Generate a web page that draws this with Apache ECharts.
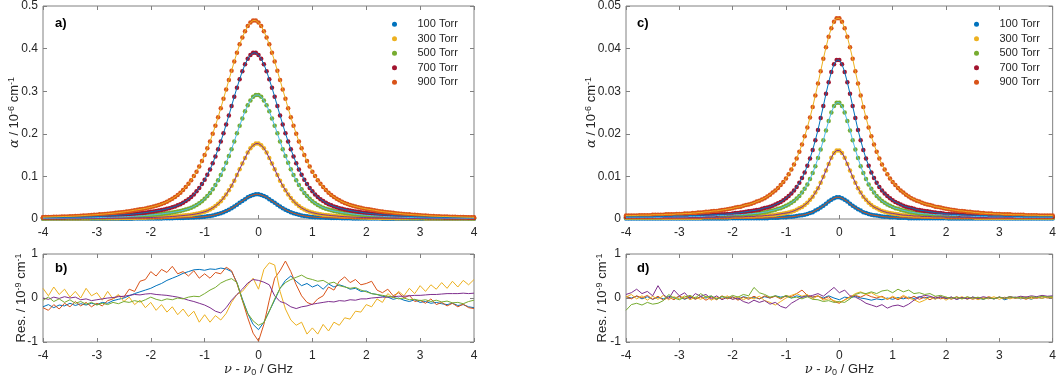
<!DOCTYPE html>
<html>
<head>
<meta charset="utf-8">
<script src="https://cdn.jsdelivr.net/npm/echarts/dist/echarts.min.js"></script>
<style>
  html, body { margin: 0; padding: 0; background: #fff; }
  #chart { width: 1059px; height: 380px; }
</style>
</head>
<body>
<div id="chart"></div>
<script>
// frequency grids (GHz)
const nu = [];
for (let i = 0; i <= 160; i++) nu.push(+(-4 + i * 0.05).toFixed(2));
const nuRes = [];
for (let i = 0; i <= 80; i++) nuRes.push(+(-4 + i * 0.1).toFixed(1));

const pressures = ['100 Torr', '300 Torr', '500 Torr', '700 Torr', '900 Torr'];
const dotColors = ['#0072BD', '#EDB120', '#77AC30', '#A2142F', '#D95319'];
const fitColors = ['#D95319', '#7E2F8E', '#4DBEEE', '#0072BD', '#EDB120'];
const resColors = ['#0072BD', '#D95319', '#EDB120', '#7E2F8E', '#77AC30'];

// panel a: absorption, 10^-6 cm^-1
const alphaA100 = [
  .0004,.0004,.0004,.0004,.0004,.0005,.0005,.0005,.0005,.0005,
  .0005,.0005,.0005,.0005,.0005,.0006,.0006,.0006,.0006,.0006,
  .0006,.0006,.0006,.0006,.0006,.0007,.0007,.0007,.0007,.0007,
  .0008,.0008,.0008,.0008,.0009,.0009,.0009,.001,.001,.001,
  .0011,.0012,.0013,.0014,.0014,.0015,.0017,.0018,.0019,.0021,
  .0023,.0024,.0026,.0028,.003,.0033,.0036,.0039,.0044,.0049,
  .0055,.0063,.0073,.0084,.0099,.0116,.0136,.0161,.0188,.022,
  .0254,.0293,.0336,.0381,.0424,.0466,.0509,.0541,.0564,.058,
  .058,.0564,.0541,.0509,.0466,.0424,.0381,.0336,.0293,.0254,
  .022,.0188,.0161,.0136,.0116,.0099,.0084,.0073,.0063,.0055,
  .0049,.0044,.0039,.0036,.0033,.003,.0028,.0026,.0024,.0023,
  .0021,.0019,.0018,.0017,.0015,.0014,.0014,.0013,.0012,.0011,
  .001,.001,.001,.0009,.0009,.0009,.0008,.0008,.0008,.0008,
  .0007,.0007,.0007,.0007,.0007,.0006,.0006,.0006,.0006,.0006,
  .0006,.0006,.0006,.0006,.0006,.0005,.0005,.0005,.0005,.0005,
  .0005,.0005,.0005,.0005,.0005,.0004,.0004,.0004,.0004,.0004,
  .0004
];
const alphaA300 = [
  .001,.001,.001,.001,.0011,.0011,.0011,.0011,.0012,.0012,
  .0012,.0012,.0013,.0013,.0013,.0014,.0014,.0014,.0015,.0015,
  .0016,.0016,.0017,.0017,.0018,.0018,.0019,.002,.002,.0021,
  .0022,.0023,.0024,.0025,.0026,.0027,.0029,.003,.0031,.0033,
  .0035,.0037,.0039,.0042,.0044,.0047,.0051,.0054,.0059,.0063,
  .007,.0075,.008,.0087,.0093,.0101,.011,.0121,.0135,.015,
  .017,.0192,.0224,.0259,.0303,.0356,.0418,.0493,.0578,.0675,
  .078,.090,.103,.117,.130,.143,.156,.166,.173,.177,
  .177,.173,.166,.156,.143,.130,.117,.103,.090,.078,
  .0675,.0578,.0493,.0418,.0356,.0303,.0259,.0224,.0192,.017,
  .015,.0135,.0121,.011,.0101,.0093,.0087,.008,.0075,.007,
  .0063,.0059,.0054,.0051,.0047,.0044,.0042,.0039,.0037,.0035,
  .0033,.0031,.003,.0029,.0027,.0026,.0025,.0024,.0023,.0022,
  .0021,.002,.002,.0019,.0018,.0018,.0017,.0017,.0016,.0016,
  .0015,.0015,.0014,.0014,.0014,.0013,.0013,.0013,.0012,.0012,
  .0012,.0012,.0011,.0011,.0011,.0011,.001,.001,.001,.001,
  .001
];
const alphaA500 = [
  .002,.002,.0021,.0021,.0022,.0022,.0023,.0023,.0024,.0024,
  .0025,.0025,.0026,.0026,.0027,.0028,.0029,.003,.0031,.0032,
  .0033,.0034,.0036,.0037,.0039,.0041,.0043,.0045,.0047,.0049,
  .0052,.0055,.0057,.0062,.0065,.0069,.0073,.0077,.0084,.0087,
  .0092,.0099,.0104,.0111,.0118,.0127,.0135,.0143,.0152,.0163,
  .0175,.0187,.0203,.0221,.0241,.0266,.0295,.033,.0371,.0418,
  .0473,.054,.0613,.070,.080,.091,.103,.117,.132,.148,
  .164,.182,.201,.219,.236,.253,.267,.278,.287,.291,
  .291,.287,.278,.267,.253,.236,.219,.201,.182,.164,
  .148,.132,.117,.103,.091,.080,.070,.0613,.054,.0473,
  .0418,.0371,.033,.0295,.0266,.0241,.0221,.0203,.0187,.0175,
  .0163,.0152,.0143,.0135,.0127,.0118,.0111,.0104,.0099,.0092,
  .0087,.0084,.0077,.0073,.0069,.0065,.0062,.0057,.0055,.0052,
  .0049,.0047,.0045,.0043,.0041,.0039,.0037,.0036,.0034,.0033,
  .0032,.0031,.003,.0029,.0028,.0027,.0026,.0026,.0025,.0025,
  .0024,.0024,.0023,.0023,.0022,.0022,.0021,.0021,.002,.002,
  .002
];
const alphaA700 = [
  .0033,.0033,.0034,.0034,.0035,.0035,.0036,.0037,.0038,.0039,
  .004,.0041,.0042,.0043,.0044,.0045,.0047,.0049,.0051,.0053,
  .0056,.0059,.0062,.0066,.007,.0074,.0077,.0081,.0087,.0091,
  .0096,.0101,.0106,.0114,.012,.0127,.0133,.014,.0149,.0158,
  .017,.0178,.0188,.0199,.021,.0223,.0239,.0255,.0274,.0296,
  .032,.0349,.0383,.0422,.0466,.0516,.0577,.065,.073,.082,
  .092,.104,.116,.131,.147,.164,.182,.201,.222,.243,
  .265,.287,.308,.328,.347,.363,.376,.385,.390,
  .390,.385,.376,.363,.347,.328,.308,.287,.265,.243,
  .222,.201,.182,.164,.147,.131,.116,.104,.092,.082,
  .073,.065,.0577,.0516,.0466,.0422,.0383,.0349,.032,.0296,
  .0274,.0255,.0239,.0223,.021,.0199,.0188,.0178,.017,.0158,
  .0149,.014,.0133,.0127,.012,.0114,.0106,.0101,.0096,.0091,
  .0087,.0081,.0077,.0074,.007,.0066,.0062,.0059,.0056,.0053,
  .0051,.0049,.0047,.0045,.0044,.0043,.0042,.0041,.004,.0039,
  .0038,.0037,.0036,.0035,.0035,.0034,.0034,.0033,.0033,.0032,
  .0032,.0031
];
const alphaA900 = [
  .0043,.0045,.0047,.0049,.0051,.0052,.0054,.0057,.0059,.006,
  .0063,.0067,.007,.0073,.0077,.0082,.0085,.009,.0094,.0098,
  .0102,.0109,.0113,.0118,.0125,.0131,.0137,.0144,.0152,.0159,
  .0167,.0175,.0184,.0194,.0207,.0216,.0226,.0237,.0248,.0262,
  .0277,.0293,.031,.0331,.0352,.0377,.0405,.0438,.0475,.0517,
  .0564,.0615,.068,.075,.083,.091,.101,.111,.123,.136,
  .150,.166,.182,.200,.219,.239,.260,.282,.304,.326,
  .348,.370,.390,.410,.426,.441,.453,.461,.466,
  .466,.461,.453,.441,.426,.410,.390,.370,.348,.326,
  .304,.282,.260,.239,.219,.200,.182,.166,.150,.136,
  .123,.111,.101,.091,.083,.075,.068,.0615,.0564,.0517,
  .0475,.0438,.0405,.0377,.0352,.0331,.031,.0293,.0277,.0262,
  .0248,.0237,.0226,.0216,.0207,.0194,.0184,.0175,.0167,.0159,
  .0152,.0144,.0137,.0131,.0125,.0118,.0113,.0109,.0102,.0098,
  .0094,.009,.0085,.0082,.0077,.0073,.007,.0067,.0063,.006,
  .0059,.0057,.0054,.0052,.0051,.0049,.0047,.0045,.0043,.0041,
  .004,.0039
];

// panel c: absorption, 10^-6 cm^-1
const alphaC100 = [
  .0001,.0001,.0001,.0001,.0001,.0001,.0001,.0001,.0001,.0001,
  .0001,.0001,.0001,.0001,.0001,.0001,.0001,.0001,.0001,.0001,
  .0001,.0001,.0001,.0001,.0001,.0001,.0001,.0001,.0001,.0001,
  .0001,.0001,.0001,.0001,.0001,.0001,.0001,.0001,.0001,.0002,
  .0002,.0002,.0002,.0002,.0002,.0002,.0002,.0002,.0002,.0002,
  .0002,.0002,.0002,.0002,.0003,.0003,.0003,.0003,.0004,.0004,
  .0004,.0005,.0005,.0006,.0007,.0008,.0009,.001,.0012,.0014,
  .0016,.002,.0023,.0027,.0031,.0036,.0041,.0045,.0049,.0051,
  .0051,.0049,.0045,.0041,.0036,.0031,.0027,.0023,.002,.0016,
  .0014,.0012,.001,.0009,.0008,.0007,.0006,.0005,.0005,.0004,
  .0004,.0004,.0003,.0003,.0003,.0003,.0002,.0002,.0002,.0002,
  .0002,.0002,.0002,.0002,.0002,.0002,.0002,.0002,.0002,.0002,
  .0002,.0001,.0001,.0001,.0001,.0001,.0001,.0001,.0001,.0001,
  .0001,.0001,.0001,.0001,.0001,.0001,.0001,.0001,.0001,.0001,
  .0001,.0001,.0001,.0001,.0001,.0001,.0001,.0001,.0001,.0001,
  .0001,.0001,.0001,.0001,.0001,.0001,.0001,.0001,.0001,.0001,
  .0001
];
const alphaC300 = [
  .0003,.0003,.0003,.0003,.0003,.0003,.0003,.0003,.0003,.0003,
  .0003,.0003,.0003,.0003,.0003,.0003,.0003,.0003,.0003,.0003,
  .0003,.0003,.0003,.0003,.0003,.0003,.0003,.0003,.0003,.0004,
  .0004,.0004,.0004,.0004,.0004,.0004,.0004,.0004,.0004,.0004,
  .0005,.0005,.0005,.0005,.0005,.0006,.0006,.0006,.0006,.0007,
  .0007,.0007,.0008,.0008,.0009,.0009,.001,.0011,.0012,.0013,
  .0014,.0015,.0017,.0019,.0022,.0025,.0028,.0033,.0038,.0045,
  .0052,.0062,.0072,.0085,.0099,.0114,.0129,.0144,.0155,.0161,
  .0161,.0155,.0144,.0129,.0114,.0099,.0085,.0072,.0062,.0052,
  .0045,.0038,.0033,.0028,.0025,.0022,.0019,.0017,.0015,.0014,
  .0013,.0012,.0011,.001,.0009,.0009,.0008,.0008,.0007,.0007,
  .0007,.0006,.0006,.0006,.0006,.0005,.0005,.0005,.0005,.0005,
  .0004,.0004,.0004,.0004,.0004,.0004,.0004,.0004,.0004,.0004,
  .0004,.0003,.0003,.0003,.0003,.0003,.0003,.0003,.0003,.0003,
  .0003,.0003,.0003,.0003,.0003,.0003,.0003,.0003,.0003,.0003,
  .0003,.0003,.0003,.0003,.0003,.0003,.0003,.0003,.0003,.0003,
  .0003
];
const alphaC500 = [
  .0004,.0004,.0004,.0004,.0004,.0004,.0004,.0004,.0004,.0004,
  .0004,.0004,.0004,.0004,.0005,.0005,.0005,.0005,.0005,.0005,
  .0005,.0005,.0005,.0005,.0006,.0006,.0006,.0006,.0006,.0006,
  .0007,.0007,.0007,.0007,.0008,.0008,.0008,.0008,.0009,.0009,
  .0009,.001,.001,.001,.0011,.0011,.0012,.0012,.0013,.0013,
  .0014,.0015,.0016,.0017,.0019,.002,.0022,.0024,.0025,.0028,
  .0031,.0034,.0038,.0042,.0048,.0054,.0062,.0071,.0081,.0094,
  .0108,.0124,.0143,.0163,.0185,.0208,.023,.025,.0265,.0273,
  .0273,.0265,.025,.023,.0208,.0185,.0163,.0143,.0124,.0108,
  .0094,.0081,.0071,.0062,.0054,.0048,.0042,.0038,.0034,.0031,
  .0028,.0025,.0024,.0022,.002,.0019,.0017,.0016,.0015,.0014,
  .0013,.0013,.0012,.0012,.0011,.0011,.001,.001,.001,.0009,
  .0009,.0009,.0008,.0008,.0008,.0008,.0007,.0007,.0007,.0007,
  .0006,.0006,.0006,.0006,.0006,.0006,.0005,.0005,.0005,.0005,
  .0005,.0005,.0005,.0005,.0005,.0005,.0004,.0004,.0004,.0004,
  .0004,.0004,.0004,.0004,.0004,.0004,.0004,.0004,.0004,.0004,
  .0004
];
const alphaC700 = [
  .0005,.0005,.0005,.0005,.0005,.0005,.0005,.0005,.0005,.0005,
  .0005,.0006,.0006,.0006,.0006,.0006,.0006,.0006,.0007,.0007,
  .0007,.0007,.0007,.0007,.0008,.0008,.0008,.0008,.0009,.0009,
  .0009,.0009,.001,.001,.001,.0011,.0011,.0011,.0012,.0012,
  .0013,.0014,.0014,.0015,.0016,.0017,.0018,.0019,.002,.0021,
  .0022,.0024,.0026,.0027,.0029,.0031,.0034,.0037,.004,.0044,
  .0049,.0054,.006,.0067,.0075,.0085,.0096,.0109,.0125,.0142,
  .0162,.0185,.0209,.0237,.0265,.0294,.0321,.0345,.0363,.0373,
  .0373,.0363,.0345,.0321,.0294,.0265,.0237,.0209,.0185,.0162,
  .0142,.0125,.0109,.0096,.0085,.0075,.0067,.006,.0054,.0049,
  .0044,.004,.0037,.0034,.0031,.0029,.0027,.0026,.0024,.0022,
  .0021,.002,.0019,.0018,.0017,.0016,.0015,.0014,.0014,.0013,
  .0012,.0012,.0011,.0011,.0011,.001,.001,.001,.0009,.0009,
  .0009,.0009,.0008,.0008,.0008,.0008,.0007,.0007,.0007,.0007,
  .0007,.0007,.0006,.0006,.0006,.0006,.0006,.0006,.0006,.0005,
  .0005,.0005,.0005,.0005,.0005,.0005,.0005,.0005,.0005,.0005,
  .0005
];
const alphaC900 = [
  .0008,.0008,.0008,.0008,.0008,.0009,.0009,.0009,.0009,.0009,
  .001,.001,.001,.001,.001,.0011,.0011,.0011,.0011,.0012,
  .0012,.0012,.0013,.0013,.0013,.0014,.0014,.0015,.0015,.0016,
  .0017,.0017,.0018,.0019,.0019,.002,.0021,.0022,.0023,.0024,
  .0025,.0027,.0028,.0029,.0031,.0033,.0034,.0036,.0038,.0041,
  .0043,.0046,.0049,.0053,.0057,.0062,.0067,.0073,.008,.0087,
  .0095,.0105,.0116,.0128,.0142,.0158,.0175,.0194,.0215,.0238,
  .0263,.029,.0318,.0347,.0376,.0403,.0428,.0448,.0463,.0471,
  .0471,.0463,.0448,.0428,.0403,.0376,.0347,.0318,.029,.0263,
  .0238,.0215,.0194,.0175,.0158,.0142,.0128,.0116,.0105,.0095,
  .0087,.008,.0073,.0067,.0062,.0057,.0053,.0049,.0046,.0043,
  .0041,.0038,.0036,.0034,.0033,.0031,.0029,.0028,.0027,.0025,
  .0024,.0023,.0022,.0021,.002,.0019,.0019,.0018,.0017,.0017,
  .0016,.0015,.0015,.0014,.0014,.0013,.0013,.0013,.0012,.0012,
  .0012,.0011,.0011,.0011,.0011,.001,.001,.001,.001,.001,
  .0009,.0009,.0009,.0009,.0009,.0008,.0008,.0008,.0008,.0008,
  .0008
];

// panel b: residuals, 10^-9 cm^-1 (0.1 GHz steps)
const resB100 = [
  -.2,-.15,-.22,-.16,-.18,-.12,-.17,-.13,-.16,-.12,
  -.15,-.1,-.12,-.06,-.03,0,.05,.1,.14,.18,
  .22,.28,.33,.4,.45,.5,.56,.6,.64,.65,
  .63,.66,.65,.68,.66,.6,.35,-.02,-.35,-.6,
  -.72,-.55,-.3,-.05,.22,.4,.5,.38,.28,.33,
  .25,.3,.2,.32,.25,.3,.26,.2,.22,.15,
  .16,.1,.08,.04,.02,-.03,0,-.05,-.08,-.04,
  -.1,-.08,-.12,-.1,-.13,-.15,-.12,-.17,-.15,-.2,
  -.22
];
const resB300 = [
  -.22,-.28,-.15,-.25,-.12,-.2,-.08,-.18,-.1,-.2,
  -.12,-.18,-.06,-.02,.05,.02,.2,.15,.38,.42,
  .6,.5,.65,.58,.72,.55,.6,.5,.62,.45,
  .55,.45,.58,.55,.7,.62,.33,-.05,-.45,-.8,
  -.98,-.6,-.05,.45,.62,.84,.6,.3,.05,-.1,
  -.15,-.02,.05,.25,.18,.38,.48,.35,.42,.3,
  .33,.38,.18,.12,.2,.05,.12,0,.06,-.08,
  -.05,-.12,-.02,-.15,-.1,-.18,-.12,-.2,-.14,-.22,
  -.24
];
const resB500 = [
  .22,.05,.25,.08,.2,.02,.15,0,.22,.05,
  .12,-.05,.15,-.02,.08,-.08,.02,-.15,-.05,-.22,
  -.1,-.28,-.15,-.32,-.2,-.38,-.25,-.42,-.3,-.55,
  -.38,-.55,-.4,-.5,-.35,-.1,.08,.15,.3,.45,
  .2,.65,.8,.75,.15,-.25,-.5,-.62,-.55,-.82,
  -.68,-.82,-.6,-.75,-.55,-.62,-.45,-.48,-.3,-.32,
  -.15,-.2,-.02,-.1,.1,0,.15,.05,.22,.1,
  .28,.15,.3,.2,.35,.22,.38,.25,.4,.3,
  .42
];
const resB700 = [
  0,-.03,.02,-.01,.03,0,.02,-.04,-.02,-.06,
  -.04,-.02,0,.01,.03,.04,.06,.08,.07,.09,
  .1,.08,.07,.06,.04,.02,-.01,-.05,-.08,-.12,
  -.16,-.22,-.3,-.34,-.22,-.05,.08,.2,.34,.42,
  .4,.36,.3,.05,-.08,-.12,-.2,-.24,-.2,-.18,
  -.14,-.12,-.1,-.08,-.09,-.06,-.07,-.04,-.05,-.02,
  -.02,0,.01,.02,.02,.03,.04,.04,.05,.06,
  .06,.07,.08,.08,.09,.1,.1,.1,.11,.1,
  .11
];
const resB900 = [
  -.05,.02,-.08,-.02,-.1,-.04,-.12,-.08,-.14,-.1,
  -.16,-.12,-.15,-.1,-.13,-.08,-.1,-.06,-.09,-.04,
  .02,-.03,-.06,-.02,-.04,0,-.02,.02,.04,.03,
  .1,.18,.24,.34,.4,.44,.35,-.05,-.35,-.52,
  -.62,-.56,-.3,-.02,.22,.35,.42,.47,.52,.45,
  .42,.38,.4,.33,.36,.28,.25,.22,.24,.18,
  .14,.1,.08,.06,.04,.02,-.02,0,-.04,-.03,
  -.06,-.04,-.08,-.05,-.09,-.07,-.11,-.1,-.13,-.08,
  -.05
];

// panel d: residuals, 10^-9 cm^-1
const resD100 = [
  .03,0,.04,-.02,.03,-.03,.02,-.02,.04,0,
  .03,-.03,.02,-.02,.03,0,.04,-.02,.03,0,
  .02,-.03,.03,0,.02,-.02,.03,0,.05,.02,
  .04,0,.05,.02,.06,.02,.04,0,.05,0,
  -.04,.02,0,.04,0,-.02,-.05,-.02,-.04,0,
  -.03,.01,-.02,.02,-.01,.03,0,.02,-.02,.02,
  -.01,.02,-.03,.01,-.02,.02,0,-.03,.01,-.02,
  .02,-.04,0,.02,-.02,.01,-.03,.02,-.01,.03,
  .02
];
const resD300 = [
  .04,-.02,.05,0,.06,-.03,.04,-.05,.02,-.04,
  .05,-.02,.04,-.03,.03,-.05,.02,-.04,.05,-.02,
  .03,-.05,.02,-.03,.04,-.02,.05,0,.04,-.02,
  .05,.03,.1,.18,.06,.02,.05,-.02,.03,-.08,
  -.12,-.04,.03,.06,.02,.08,.03,0,.04,-.03,
  .02,-.04,.03,-.02,.04,-.03,.02,-.04,.03,-.02,
  .02,-.03,.03,-.02,.02,-.03,.01,-.02,.03,-.01,
  .02,-.02,.03,-.01,.02,-.03,.02,-.01,.03,0,
  .02
];
const resD500 = [
  .02,.08,-.02,.05,-.05,.04,-.03,.06,-.04,.03,
  -.02,.05,-.04,.02,-.03,.04,-.05,.02,-.02,.05,
  -.03,.03,-.04,.02,-.02,.04,-.06,-.1,-.16,-.08,
  0,.06,.1,.04,.08,-.02,.05,-.05,-.02,-.06,
  -.1,-.05,.02,.1,.14,.08,.12,.05,.02,-.03,
  .04,-.02,.06,0,-.04,-.1,-.05,.02,-.03,.04,
  -.05,.02,-.02,.03,-.03,.02,-.04,.01,-.02,.03,
  -.03,.02,-.02,.02,-.01,.03,-.02,.02,-.01,.03,
  0
];
const resD700 = [
  .08,.12,.2,.1,.15,.05,.28,.08,-.02,.18,
  .05,.12,-.02,.1,.04,.08,-.02,.05,-.04,.02,
  -.03,0,-.08,-.12,-.05,-.1,-.06,-.14,-.1,-.19,
  -.23,-.12,-.05,.02,.03,.06,.1,.04,.14,.24,
  .12,.18,.05,.02,-.04,-.12,-.16,-.2,-.15,-.23,
  -.18,-.16,-.2,-.14,-.05,.02,.06,.04,0,.03,
  -.01,.02,-.03,.01,-.02,.02,-.01,.03,0,-.02,
  .02,0,.03,.01,.04,.02,.05,.03,.06,.04,
  .05
];
const resD900 = [
  -.28,-.15,-.12,-.16,-.1,-.14,-.12,-.06,.08,0,
  -.04,.02,.06,0,.1,.02,.05,-.03,.04,0,
  .06,.02,.08,.05,.24,.12,.08,.02,.05,0,
  .06,0,.02,-.02,.03,-.03,-.04,-.08,-.06,-.1,
  -.08,-.1,-.02,.08,.12,.1,.14,.1,.16,.18,
  .12,.2,.14,.18,.1,.12,.08,.1,.04,.06,
  .02,-.01,.02,-.02,.03,-.01,.02,-.03,.01,-.02,
  .02,-.01,.03,0,.02,-.01,.03,.01,.04,.02,
  .03
];

const alphaA = [alphaA100, alphaA300, alphaA500, alphaA700, alphaA900];
const alphaC = [alphaC100, alphaC300, alphaC500, alphaC700, alphaC900];
const resB = [resB100, resB300, resB500, resB700, resB900];
const resD = [resD100, resD300, resD500, resD700, resD900];

const FONT = '"Liberation Sans", Arial, Helvetica, sans-serif';
const TXT = '#262626';
const FRAME = '#808080';

const pairs = (xs, ys) => ys.map((y, i) => [xs[i], y]);

// rich text pieces for axis titles (normal, italic symbol, super-/subscript)
const supRich = {
  n: { fontSize: 13, fontFamily: FONT, color: TXT, lineHeight: 14, padding: [4, 0, 0, 0], verticalAlign: 'bottom' },
  i: { fontSize: 13, fontFamily: 'DejaVu Serif', fontStyle: 'italic', color: TXT, lineHeight: 14, padding: [4, 0, 0, 0], verticalAlign: 'bottom' },
  s: { fontSize: 9, fontFamily: FONT, color: TXT, lineHeight: 10, verticalAlign: 'top' },
};
const subRich = {
  n: { fontSize: 13, fontFamily: FONT, color: TXT, lineHeight: 14, padding: [0, 0, 3, 0], verticalAlign: 'top' },
  i: { fontSize: 13, fontFamily: 'DejaVu Serif', fontStyle: 'italic', color: TXT, lineHeight: 14, padding: [0, 0, 3, 0], verticalAlign: 'top' },
  b: { fontSize: 9, fontFamily: FONT, color: TXT, lineHeight: 10, verticalAlign: 'bottom' },
};

const gridBox = [
  { left: 43, top: 5, width: 431, height: 214 },
  { left: 43, top: 254, width: 431, height: 90 },
  { left: 626, top: 5, width: 431, height: 214 },
  { left: 626, top: 254, width: 431, height: 90 },
];

function xAxes(gi, withName) {
  const base = {
    type: 'value', gridIndex: gi, min: -4, max: 4, interval: 1,
    axisLine: { show: false, onZero: false },
    axisTick: { inside: true, length: 4, lineStyle: { color: FRAME } },
    splitLine: { show: false },
  };
  const bottom = Object.assign({}, base, {
    position: 'bottom',
    axisLabel: { color: TXT, fontSize: 12, fontFamily: FONT, margin: 8 },
  });
  if (withName) {
    Object.assign(bottom, {
      name: '{i|ν}{n| - }{i|ν}{b|0}{n| / GHz}',
      nameLocation: 'middle',
      nameGap: 21,
      nameMoveOverlap: false,
      nameTextStyle: { rich: subRich },
    });
  }
  const top = Object.assign({}, base, { position: 'top', axisLabel: { show: false } });
  return [bottom, top];
}

function yAxes(gi, min, max, step, name, gap) {
  const base = {
    type: 'value', gridIndex: gi, min: min, max: max, interval: step,
    axisLine: { show: false, onZero: false },
    axisTick: { inside: true, length: 4, lineStyle: { color: FRAME } },
    splitLine: { show: false },
  };
  const left = Object.assign({}, base, {
    position: 'left',
    axisLabel: { color: TXT, fontSize: 12, fontFamily: FONT, margin: 5 },
    name: name, nameLocation: 'middle', nameRotate: 90, nameGap: gap,
    nameMoveOverlap: false,
    nameTextStyle: { rich: supRich },
  });
  const right = Object.assign({}, base, { position: 'right', axisLabel: { show: false } });
  return [left, right];
}

const alphaName = '{i|α}{n| / 10}{s|-6}{n| cm}{s|-1}';
const resName = '{n|Res. / 10}{s|-9}{n| cm}{s|-1}';

const xAxis = [].concat(xAxes(0, false), xAxes(1, true), xAxes(2, false), xAxes(3, true));
const yAxis = [].concat(
  yAxes(0, 0, 0.5, 0.1, alphaName, 22),
  yAxes(1, -1, 1, 1, resName, 15),
  yAxes(2, 0, 0.05, 0.01, alphaName, 28),
  yAxes(3, -1, 1, 1, resName, 17)
);

const series = [];
function addProfiles(gi, sets, tag) {
  sets.forEach((ys, k) => {
    const data = pairs(nu, ys);
    series.push({
      name: pressures[k], type: 'scatter', xAxisIndex: gi * 2, yAxisIndex: gi * 2,
      data: data, symbol: 'circle', symbolSize: 4.5,
      itemStyle: { color: dotColors[k], opacity: 1 }, silent: true,
    });
    series.push({
      name: 'fit ' + tag + k, type: 'line', xAxisIndex: gi * 2, yAxisIndex: gi * 2,
      data: data, showSymbol: false, symbol: 'none',
      lineStyle: { color: fitColors[k], width: 1 }, silent: true,
    });
  });
}
function addResiduals(gi, sets, tag) {
  sets.forEach((ys, k) => {
    series.push({
      name: 'res ' + tag + k, type: 'line', xAxisIndex: gi * 2, yAxisIndex: gi * 2,
      data: pairs(nuRes, ys), showSymbol: false, symbol: 'none',
      lineStyle: { color: resColors[k], width: 1 }, silent: true,
    });
  });
}
addProfiles(0, alphaA, 'a');
addResiduals(1, resB, 'b');
addProfiles(2, alphaC, 'c');
addResiduals(3, resD, 'd');

const legendBase = {
  data: pressures, orient: 'vertical', top: 12,
  icon: 'circle', itemWidth: 36, itemHeight: 5, itemGap: 0,
  selectedMode: false,
  textStyle: { color: TXT, fontSize: 11, fontFamily: FONT, lineHeight: 14.5 },
};

const panelLabel = (x, y, t) => ({
  type: 'text', left: x, top: y,
  style: { text: t, font: 'bold 13px ' + FONT, fill: '#000' },
});

const option = {
  backgroundColor: '#ffffff',
  animation: false,
  grid: gridBox.map(g => Object.assign({ show: true, borderColor: FRAME, borderWidth: 1, backgroundColor: 'transparent' }, g)),
  xAxis: xAxis,
  yAxis: yAxis,
  legend: [
    Object.assign({ left: 387 }, legendBase),
    Object.assign({ left: 969 }, legendBase),
  ],
  graphic: [
    panelLabel(55, 17, 'a)'),
    panelLabel(55, 262, 'b)'),
    panelLabel(637, 17, 'c)'),
    panelLabel(637, 262, 'd)'),
  ],
  series: series,
};

const chart = echarts.init(document.getElementById('chart'));
chart.setOption(option);
</script>
</body>
</html>
